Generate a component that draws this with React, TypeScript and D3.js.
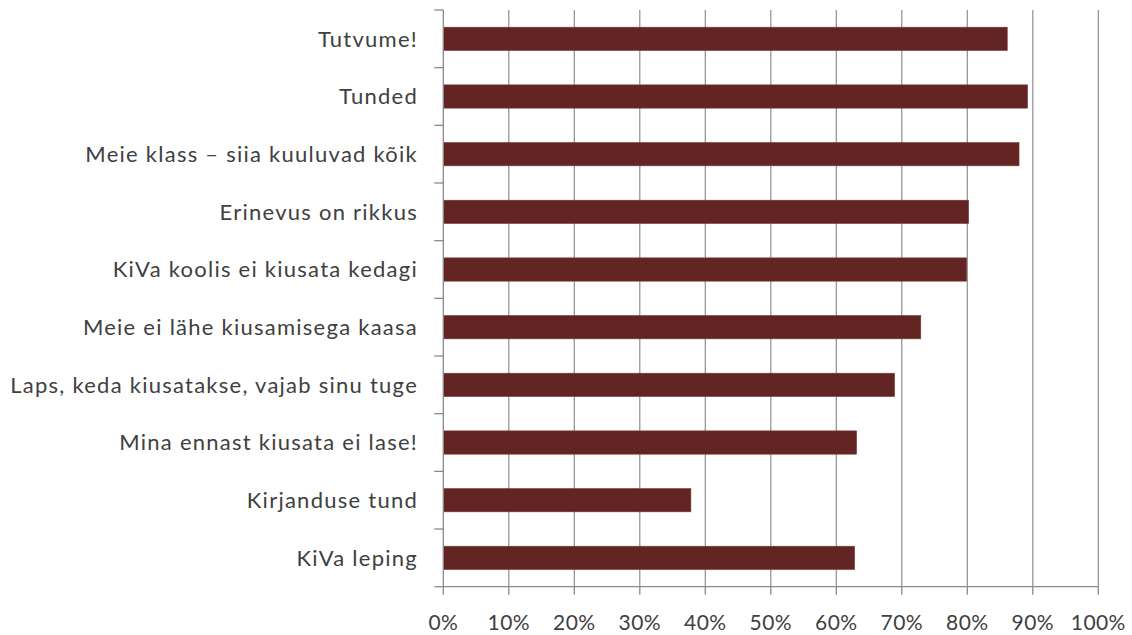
import React from "react";
import * as d3 from "d3";

const categories = [
  "Tutvume!",
  "Tunded",
  "Meie klass – siia kuuluvad kõik",
  "Erinevus on rikkus",
  "KiVa koolis ei kiusata kedagi",
  "Meie ei lähe kiusamisega kaasa",
  "Laps, keda kiusatakse, vajab sinu tuge",
  "Mina ennast kiusata ei lase!",
  "Kirjanduse tund",
  "KiVa leping",
];
const values = [0.861, 0.892, 0.879, 0.802, 0.799, 0.729, 0.689, 0.631, 0.378, 0.628];
const xTicks = [0, 0.1, 0.2, 0.3, 0.4, 0.5, 0.6, 0.7, 0.8, 0.9, 1.0];

const W = 1132;
const H = 635;
const left = 443.3;
const right = 1098.3;
const top = 10;
const bottom = 586.7;
const font = "Lato, 'Open Sans', sans-serif";

export default function App() {
  const x = d3.scaleLinear().domain([0, 1]).range([left, right]);
  const y = d3
    .scaleBand<string>()
    .domain(categories)
    .range([top, bottom])
    .paddingInner(0.596)
    .paddingOuter(0.298);
  const step = y.step();
  const fmt = d3.format(".0%");
  const boundaries = d3.range(categories.length + 1).map((i) => top + i * step);

  return (
    <div style={{ position: "absolute", left: 0, top: 0 }}>
      <svg width={W} height={H} style={{ display: "block", background: "#fff" }}>
        {/* gridlines */}
        {xTicks.slice(1).map((t) => (
          <line key={"g" + t} x1={x(t)} x2={x(t)} y1={top} y2={bottom} stroke="#8e8e8e" strokeWidth={1.2} />
        ))}
        {/* bars */}
        {categories.map((c, i) => (
          <rect
            key={c}
            x={x(0)}
            y={y(c)}
            width={x(values[i]) - x(0)}
            height={y.bandwidth()}
            fill="#632523"
            stroke="#7a3a38"
            strokeWidth={0.6}
          />
        ))}
        {/* y axis */}
        <line x1={left} x2={left} y1={top} y2={bottom} stroke="#8a8a8a" strokeWidth={1.3} />
        {boundaries.map((b, i) => (
          <line key={"yt" + i} x1={left - 9} x2={left} y1={b} y2={b} stroke="#8a8a8a" strokeWidth={1.3} />
        ))}
        {/* x axis */}
        <line x1={left} x2={right} y1={bottom} y2={bottom} stroke="#8a8a8a" strokeWidth={1.3} />
        {xTicks.map((t) => (
          <line key={"xt" + t} x1={x(t)} x2={x(t)} y1={bottom} y2={bottom + 8} stroke="#8a8a8a" strokeWidth={1.3} />
        ))}
        {xTicks.map((t) => (
          <text
            key={"xl" + t}
            x={x(t)}
            y={630}
            textAnchor="middle"
            fontFamily={font}
            fontSize={21}
            letterSpacing={0.4}
            fill="#404040"
          >
            {fmt(t)}
          </text>
        ))}
        {/* category labels */}
        {categories.map((c) => (
          <text
            key={"yl" + c}
            x={418}
            y={(y(c) as number) + y.bandwidth() / 2}
            dy="0.35em"
            textAnchor="end"
            fontFamily={font}
            fontSize={22}
            letterSpacing={1.25}
            fill="#404040"
          >
            {c}
          </text>
        ))}
      </svg>
    </div>
  );
}
